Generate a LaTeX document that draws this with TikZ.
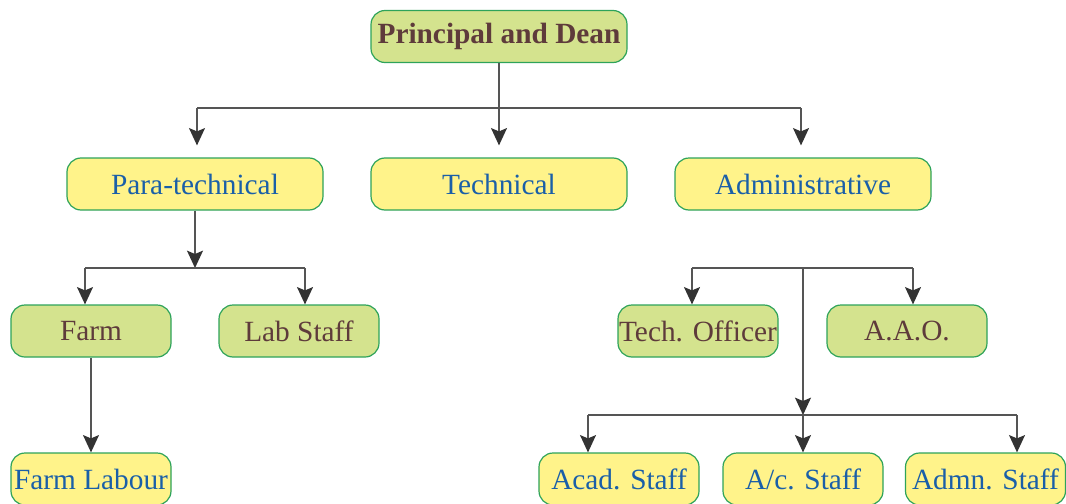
\documentclass[tikz,border=0pt]{standalone}
\usepackage{fontspec}
\setmainfont{Liberation Serif}
\usetikzlibrary{arrows.meta}
\definecolor{gfill}{HTML}{D4E38E}
\definecolor{yfill}{HTML}{FFF38A}
\definecolor{bord}{HTML}{2EA35A}
\definecolor{brn}{HTML}{5E3B3B}
\definecolor{blu}{HTML}{1A5FA8}
\definecolor{lnc}{HTML}{555555}
\definecolor{tipc}{HTML}{333333}
\tikzset{
  box/.style={draw=bord, line width=0.9pt, rounded corners=10.5pt, minimum height=39pt, inner sep=0pt, font=\fontsize{22}{24}\selectfont},
  gbox/.style={box, fill=gfill, text=brn},
  ybox/.style={box, fill=yfill, text=blu},
  wide/.style={minimum width=192pt},
  narrow/.style={minimum width=120pt},
  conn/.style={draw=lnc, line width=1.1pt},
  arr/.style={conn, -{Stealth[length=13pt, width=12pt, inset=2.5pt, fill=tipc, color=tipc]}},
}
\begin{document}
\begin{tikzpicture}[x=0.75pt, y=-0.75pt]
\useasboundingbox (0,0) rectangle (1066,503);
\node[gbox, wide, font=\fontsize{22}{24}\selectfont\bfseries] (pd) at (499,36.5) {Principal and Dean};
\node[ybox, wide] (para) at (195,184) {Para-technical};
\node[ybox, wide] (tech) at (499,184) {Technical};
\node[ybox, wide] (adm) at (803,184) {Administrative};
\node[gbox, narrow] (farm) at (91,331) {Farm};
\node[gbox, narrow] (lab) at (299,331) {Lab Staff};
\node[gbox, narrow] (to) at (698,331) {Tech. Officer};
\node[gbox, narrow] (aao) at (907,331) {A.A.O.};
\node[ybox, narrow] (fl) at (91,479) {Farm Labour};
\node[ybox, narrow] (acad) at (619,479) {Acad. Staff};
\node[ybox, narrow] (ac) at (803,479) {A/c. Staff};
\node[ybox, narrow] (admn) at (985.5,479) {Admn. Staff};
% level 1
\coordinate (b1l) at (197,108);
\coordinate (b1r) at (801,108);
\draw[conn] (b1l) -- (b1r);
\draw[arr, shorten >=9pt] (pd.south) -- (pd.south |- tech.north);
\draw[arr, shorten >=9pt] (b1l) -- (b1l |- para.north);
\draw[arr, shorten >=9pt] (b1r) -- (b1r |- adm.north);
% para-technical
\coordinate (b2) at (195,268);
\coordinate (b2l) at (85,268);
\coordinate (b2r) at (305,268);
\draw[arr] (para.south) -- (b2);
\draw[conn] (b2l) -- (b2r);
\draw[arr] (b2l) -- (b2l |- farm.north);
\draw[arr] (b2r) -- (b2r |- lab.north);
\draw[arr] (farm.south) -- (fl.north);
% administrative
\coordinate (b3) at (803,268);
\coordinate (b3l) at (692,268);
\coordinate (b3r) at (913,268);
\coordinate (b4) at (803,415);
\coordinate (b4l) at (588,415);
\coordinate (b4r) at (1017,415);
\draw[conn] (b3l) -- (b3r);
\draw[arr] (b3l) -- (b3l |- to.north);
\draw[arr] (b3r) -- (b3r |- aao.north);
\draw[arr] (b3) -- (b4);
\draw[conn] (b4l) -- (b4r);
\draw[arr] (b4l) -- (b4l |- acad.north);
\draw[arr] (b4) -- (b4 |- ac.north);
\draw[arr] (b4r) -- (b4r |- admn.north);
\end{tikzpicture}
\end{document}
